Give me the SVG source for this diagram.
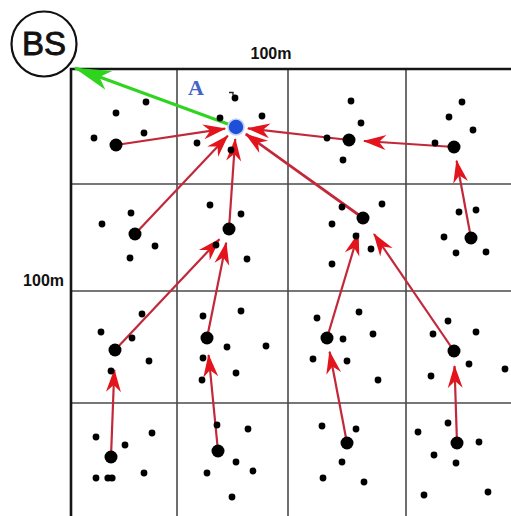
<svg xmlns="http://www.w3.org/2000/svg" width="511" height="516" viewBox="0 0 511 516">
<style>
.grid{stroke:#4a4a4a;stroke-width:1.6;fill:none}
.border{stroke:#151515;stroke-width:2.6;fill:none}
.sd{fill:#000}
.ld{fill:#000}
.arr{stroke:#c2283a;stroke-width:2.2;fill:none;marker-end:url(#rh)}
.arrT{stroke:#c2283a;stroke-width:2.8;fill:none;marker-end:url(#rh)}
.lbl{font-family:"Liberation Sans",Arial,sans-serif;font-weight:bold;font-size:16px;fill:#111}
</style>
<defs>
<marker id="rh" markerUnits="userSpaceOnUse" orient="auto" refX="0" refY="0" markerWidth="30" markerHeight="20" overflow="visible">
<path d="M1,0 L-22,-7.5 L-15,0 L-22,7.5 Z" fill="#e3141c"/>
</marker>
<marker id="gh" markerUnits="userSpaceOnUse" orient="auto" refX="0" refY="0" markerWidth="40" markerHeight="24" overflow="visible">
<path d="M1,0 L-36,-10 L-26,0 L-36,10 Z" fill="#2fd41f"/>
</marker>
</defs>
<rect width="511" height="516" fill="#fff"/>
<g id="grid">
<line class="grid" x1="177" y1="69" x2="177" y2="516"/>
<line class="grid" x1="288" y1="69" x2="288" y2="516"/>
<line class="grid" x1="406" y1="69" x2="406" y2="516"/>
<line class="grid" x1="71" y1="184" x2="511" y2="184"/>
<line class="grid" x1="71" y1="291" x2="511" y2="291"/>
<line class="grid" x1="71" y1="403" x2="511" y2="403"/>
<path class="border" d="M71,516 V69 H511"/>
</g>
<text class="lbl" x="271" y="59" text-anchor="middle">100m</text>
<text class="lbl" x="64" y="286" text-anchor="end">100m</text>
<g id="connectors">
<line class="arr" x1="116" y1="145" x2="225.1" y2="128.6"/>
<line class="arr" x1="135" y1="234" x2="227.8" y2="135.7"/>
<line class="arr" x1="229" y1="229" x2="235.2" y2="139"/>
<line class="arrT" x1="363" y1="218" x2="245.8" y2="134"/>
<line class="arr" x1="349" y1="140" x2="247.9" y2="128.4"/>
<line class="arr" x1="454" y1="147" x2="364" y2="141"/>
<line class="arr" x1="471" y1="238" x2="456.6" y2="160.8"/>
<line class="arr" x1="115" y1="350" x2="219.4" y2="239.2"/>
<line class="arr" x1="207" y1="338" x2="226.2" y2="242.7"/>
<line class="arr" x1="327" y1="338" x2="358.4" y2="233.3"/>
<line class="arr" x1="454" y1="351" x2="374" y2="234"/>
<line class="arr" x1="111" y1="457" x2="114.3" y2="370"/>
<line class="arr" x1="218" y1="451" x2="208.6" y2="355"/>
<line class="arr" x1="347" y1="443" x2="329.6" y2="351.7"/>
<line class="arr" x1="457" y1="443" x2="454.5" y2="366"/>
<line x1="236" y1="127" x2="75" y2="68" stroke="#2fd41f" stroke-width="3" marker-end="url(#gh)"/>
</g>
<g id="sensors">
<circle class="sd" cx="146" cy="102" r="3.4"/><circle class="sd" cx="116" cy="113" r="3.4"/><circle class="sd" cx="94" cy="138" r="3.4"/><circle class="sd" cx="144" cy="133" r="3.4"/>
<circle class="sd" cx="235" cy="98" r="3.4"/><circle class="sd" cx="220" cy="118" r="3.4"/><circle class="sd" cx="197" cy="143" r="3.4"/><circle class="sd" cx="231" cy="150" r="3.4"/><circle class="sd" cx="262" cy="116" r="3.4"/>
<circle class="sd" cx="351" cy="101" r="3.4"/><circle class="sd" cx="361" cy="123" r="3.4"/><circle class="sd" cx="327" cy="138" r="3.4"/><circle class="sd" cx="343" cy="160" r="3.4"/>
<circle class="sd" cx="462" cy="102" r="3.4"/><circle class="sd" cx="449" cy="117" r="3.4"/><circle class="sd" cx="473" cy="130" r="3.4"/><circle class="sd" cx="435" cy="143" r="3.4"/>
<circle class="sd" cx="102" cy="224" r="3.4"/><circle class="sd" cx="131" cy="213" r="3.4"/><circle class="sd" cx="155" cy="246" r="3.4"/><circle class="sd" cx="130" cy="258" r="3.4"/>
<circle class="sd" cx="210" cy="205" r="3.4"/><circle class="sd" cx="241" cy="214" r="3.4"/><circle class="sd" cx="216" cy="245" r="3.4"/><circle class="sd" cx="247" cy="259" r="3.4"/>
<circle class="sd" cx="342" cy="207" r="3.4"/><circle class="sd" cx="382" cy="204" r="3.4"/><circle class="sd" cx="332" cy="224" r="3.4"/><circle class="sd" cx="356" cy="236" r="3.4"/><circle class="sd" cx="371" cy="249" r="3.4"/><circle class="sd" cx="332" cy="264" r="3.4"/>
<circle class="sd" cx="459" cy="212" r="3.4"/><circle class="sd" cx="476" cy="210" r="3.4"/><circle class="sd" cx="444" cy="237" r="3.4"/><circle class="sd" cx="456" cy="253" r="3.4"/><circle class="sd" cx="486" cy="252" r="3.4"/>
<circle class="sd" cx="101" cy="332" r="3.4"/><circle class="sd" cx="142" cy="314" r="3.4"/><circle class="sd" cx="132" cy="338" r="3.4"/><circle class="sd" cx="149" cy="361" r="3.4"/><circle class="sd" cx="111" cy="371" r="3.4"/>
<circle class="sd" cx="203" cy="316" r="3.4"/><circle class="sd" cx="241" cy="311" r="3.4"/><circle class="sd" cx="227" cy="347" r="3.4"/><circle class="sd" cx="266" cy="346" r="3.4"/><circle class="sd" cx="203" cy="358" r="3.4"/><circle class="sd" cx="236" cy="373" r="3.4"/><circle class="sd" cx="202" cy="380" r="3.4"/>
<circle class="sd" cx="317" cy="318" r="3.4"/><circle class="sd" cx="359" cy="312" r="3.4"/><circle class="sd" cx="373" cy="334" r="3.4"/><circle class="sd" cx="343" cy="339" r="3.4"/><circle class="sd" cx="313" cy="359" r="3.4"/><circle class="sd" cx="347" cy="361" r="3.4"/><circle class="sd" cx="378" cy="380" r="3.4"/>
<circle class="sd" cx="448" cy="321" r="3.4"/><circle class="sd" cx="433" cy="334" r="3.4"/><circle class="sd" cx="476" cy="332" r="3.4"/><circle class="sd" cx="469" cy="364" r="3.4"/><circle class="sd" cx="505" cy="369" r="3.4"/><circle class="sd" cx="431" cy="376" r="3.4"/>
<circle class="sd" cx="96" cy="437" r="3.4"/><circle class="sd" cx="152" cy="433" r="3.4"/><circle class="sd" cx="125" cy="445" r="3.4"/><circle class="sd" cx="96" cy="478" r="3.4"/><circle class="sd" cx="108" cy="478" r="3.6"/><circle class="sd" cx="112" cy="478" r="3.6"/><circle class="sd" cx="144" cy="473" r="3.4"/>
<circle class="sd" cx="217" cy="425" r="3.4"/><circle class="sd" cx="248" cy="429" r="3.4"/><circle class="sd" cx="236" cy="462" r="3.4"/><circle class="sd" cx="207" cy="473" r="3.4"/><circle class="sd" cx="253" cy="471" r="3.4"/><circle class="sd" cx="232" cy="497" r="3.4"/>
<circle class="sd" cx="322" cy="426" r="3.4"/><circle class="sd" cx="356" cy="429" r="3.4"/><circle class="sd" cx="342" cy="462" r="3.4"/><circle class="sd" cx="323" cy="478" r="3.4"/><circle class="sd" cx="364" cy="482" r="3.4"/>
<circle class="sd" cx="448" cy="423" r="3.4"/><circle class="sd" cx="418" cy="432" r="3.4"/><circle class="sd" cx="479" cy="442" r="3.4"/><circle class="sd" cx="434" cy="455" r="3.4"/><circle class="sd" cx="456" cy="463" r="3.4"/><circle class="sd" cx="424" cy="495" r="3.4"/><circle class="sd" cx="488" cy="492" r="3.4"/>
<path d="M229,92.5 H233 V95" stroke="#222" stroke-width="1.4" fill="none"/>
</g>
<g id="n1"><circle class="ld" cx="116" cy="145" r="6.5"/></g>
<g id="n2"><circle class="ld" cx="349" cy="140" r="6.5"/></g>
<g id="n3"><circle class="ld" cx="454" cy="147" r="6.5"/></g>
<g id="n4"><circle class="ld" cx="135" cy="234" r="6.5"/></g>
<g id="n5"><circle class="ld" cx="229" cy="229" r="6.5"/></g>
<g id="n6"><circle class="ld" cx="363" cy="218" r="6.5"/></g>
<g id="n7"><circle class="ld" cx="471" cy="238" r="6.5"/></g>
<g id="n8"><circle class="ld" cx="115" cy="350" r="6.5"/></g>
<g id="n9"><circle class="ld" cx="207" cy="338" r="6.5"/></g>
<g id="n10"><circle class="ld" cx="327" cy="338" r="6.5"/></g>
<g id="n11"><circle class="ld" cx="454" cy="351" r="6.5"/></g>
<g id="n12"><circle class="ld" cx="111" cy="457" r="6.5"/></g>
<g id="n13"><circle class="ld" cx="218" cy="451" r="6.5"/></g>
<g id="n14"><circle class="ld" cx="347" cy="443" r="6.5"/></g>
<g id="n15"><circle class="ld" cx="457" cy="443" r="6.5"/></g>
<g id="A">
<circle cx="236" cy="127" r="8" fill="#1f4ed8" stroke="#c4d2f4" stroke-width="1.6"/>
<text x="196" y="95" text-anchor="middle" font-family="'Liberation Serif','Times New Roman',serif" font-weight="bold" font-size="22" fill="#4563c8">A</text>
</g>
<g id="BS">
<circle cx="44" cy="44" r="32.5" fill="#fff" stroke="#111" stroke-width="2.2"/>
<text x="44" y="55" text-anchor="middle" font-family="'Liberation Sans',Arial,sans-serif" font-size="33" fill="#111" stroke="#111" stroke-width="0.9">BS</text>
</g>
</svg>
